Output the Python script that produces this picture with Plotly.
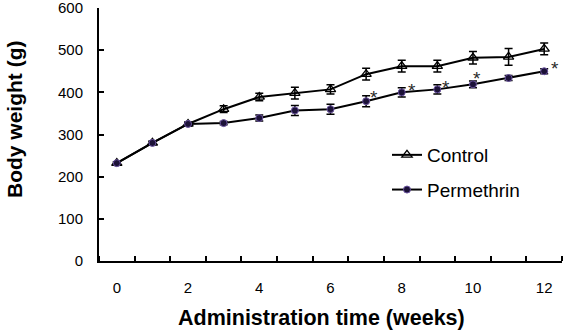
import plotly.graph_objects as go

weeks = list(range(13))
tick_labels = ["0", "2", "4", "6", "8", "10", "12"]
tick_positions = [0, 2, 4, 6, 8, 10, 12]
y_ticks = [0, 100, 200, 300, 400, 500, 600]

control = [232, 280, 325, 360, 389, 398, 407, 443, 462, 462, 482, 484, 503]
control_err = [3, 4, 4, 8, 9, 14, 11, 14, 14, 14, 15, 20, 14]
permethrin = [232, 280, 325, 327, 339, 357, 360, 379, 400, 407, 419, 434, 450]
permethrin_err = [3, 4, 4, 4, 7, 12, 12, 13, 11, 11, 8, 6, 6]
star_weeks = [7, 8, 9, 10, 12]
star_dx = [8, 10, 9, 4, 11]
star_dy = [9, 7, 7, 11, 8]

FONT = "Liberation Sans, Arial, sans-serif"

fig = go.Figure()
fig.add_trace(go.Scatter(
    x=weeks, y=control, name="Control", mode="lines+markers", legendgroup="c",
    line=dict(color="black", width=2),
    marker=dict(symbol="triangle-up-open", size=9, color="black", line=dict(width=1.3)),
    error_y=dict(type="data", array=control_err, color="black", thickness=1.5, width=4),
))
fig.add_trace(go.Scatter(
    x=weeks, y=permethrin, name="Permethrin", mode="lines+markers", legendgroup="p",
    line=dict(color="black", width=2),
    marker=dict(symbol="circle", size=7, color="#1c1238", line=dict(color="#6b54a0", width=1)),
    error_y=dict(type="data", array=permethrin_err, color="black", thickness=1.5, width=4),
))

for w, dx, dy in zip(star_weeks, star_dx, star_dy):
    fig.add_annotation(x=w, y=permethrin[w], text="*", showarrow=False,
                       xanchor="center", yanchor="middle",
                       xshift=dx, yshift=dy - 5,
                       font=dict(family=FONT, size=19, color="#2a2a2a"))

fig.add_annotation(xref="paper", yref="paper", x=(321.5 - 99) / 463, y=-(318 - 261) / 253,
                   text="<b>Administration time (weeks)</b>", showarrow=False,
                   xanchor="center", yanchor="middle",
                   font=dict(family=FONT, size=21.5, color="black"))
fig.add_annotation(xref="paper", yref="paper", x=(14 - 99) / 463, y=(261 - 120) / 253,
                   text="<b>Body weight (g)</b>", showarrow=False, textangle=-90,
                   xanchor="center", yanchor="middle",
                   font=dict(family=FONT, size=21, color="black"))

fig.update_layout(
    width=566, height=333,
    margin=dict(l=99, r=4, t=8, b=72, autoexpand=False),
    paper_bgcolor="white", plot_bgcolor="white",
    font=dict(family=FONT, color="black"),
    showlegend=True,
    legend=dict(x=0.622, y=(261 - 136) / 253, xanchor="left", yanchor="top", bgcolor="rgba(0,0,0,0)",
                font=dict(family=FONT, size=19, color="black"), tracegroupgap=7,
                itemwidth=30),
    xaxis=dict(
        range=[-0.5, 12.5], tickmode="array", tickvals=tick_positions, ticktext=tick_labels,
        ticks="", showgrid=False, zeroline=False, automargin=False,
        showline=True, linecolor="black", linewidth=2,
        tickfont=dict(family=FONT, size=15, color="black"), ticklabelstandoff=12,
        ticklabeloverflow="allow",
        minor=dict(ticks="inside", tickmode="linear", tick0=0.5, dtick=1, ticklen=5, tickwidth=2, tickcolor="black", showgrid=False),
    ),
    yaxis=dict(
        range=[0, 600], tickmode="array", tickvals=y_ticks,
        ticks="inside", ticklen=5, tickwidth=2, tickcolor="black",
        showgrid=False, zeroline=False, automargin=False,
        showline=True, linecolor="black", linewidth=2,
        tickfont=dict(family=FONT, size=15, color="black"), ticklabelstandoff=11,
        ticklabeloverflow="allow",
    ),
)

fig.write_html("out.html", config={"displayModeBar": False},
               post_script="document.body.style.margin='0px';document.body.style.overflow='hidden';")
